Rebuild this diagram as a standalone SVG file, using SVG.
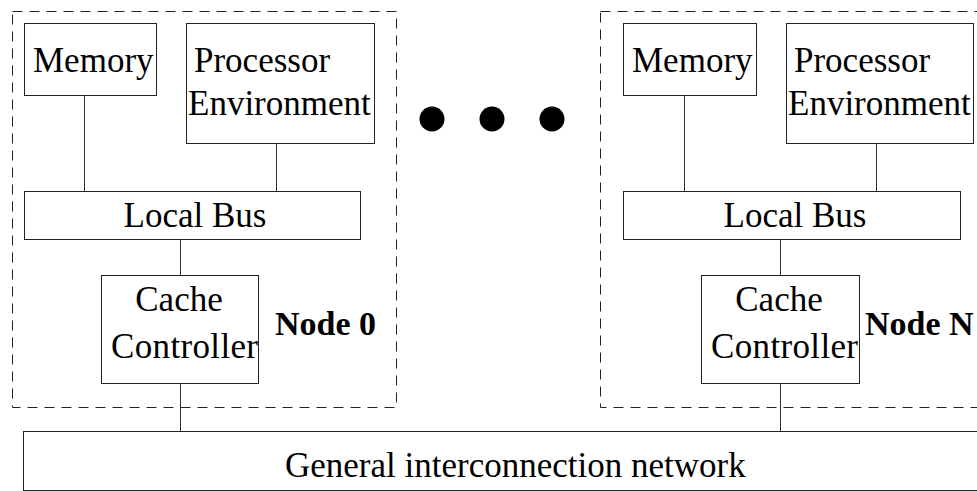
<svg xmlns="http://www.w3.org/2000/svg" width="977" height="491" viewBox="0 0 977 491">
<style>
.box{fill:#fff;stroke:#222;stroke-width:1}
.dash{fill:none;stroke:#222;stroke-width:1;stroke-dasharray:10 7}
.ln{stroke:#333;stroke-width:1;fill:none}
text{font-family:"Liberation Serif","Times New Roman",serif;font-size:35px;fill:#000}
.b{font-weight:bold;font-size:34px}
</style>
<rect width="977" height="491" fill="#fff"/>
<g id="connectors">
<line class="ln" x1="84.5" y1="95" x2="84.5" y2="191"/>
<line class="ln" x1="276.5" y1="143" x2="276.5" y2="191"/>
<line class="ln" x1="180.5" y1="239" x2="180.5" y2="275"/>
<line class="ln" x1="180.5" y1="383" x2="180.5" y2="431"/>
<line class="ln" x1="684.5" y1="95" x2="684.5" y2="191"/>
<line class="ln" x1="876.5" y1="143" x2="876.5" y2="191"/>
<line class="ln" x1="780.5" y1="239" x2="780.5" y2="275"/>
<line class="ln" x1="780.5" y1="383" x2="780.5" y2="431"/>
</g>
<g id="node0">
<rect class="dash" x="12.5" y="11.5" width="384" height="396"/>
<text class="b" x="275" y="335">Node 0</text>
</g>
<g id="node0-memory"><rect class="box" x="24.5" y="23.5" width="132" height="72"/><text x="33" y="72">Memory</text></g>
<g id="node0-processor"><rect class="box" x="186.5" y="23.5" width="188" height="120"/><text x="194" y="72">Processor</text><text x="188" y="115">Environment</text></g>
<g id="node0-bus"><rect class="box" x="24.5" y="191.5" width="336" height="48"/><text x="195" y="227" text-anchor="middle">Local Bus</text></g>
<g id="node0-cache"><rect class="box" x="101.5" y="275.5" width="157" height="108"/><text x="179" y="311" text-anchor="middle">Cache</text><text x="111" y="358" textLength="147">Controller</text></g>
<g id="dots"><circle cx="432" cy="119" r="12.5"/><circle cx="492" cy="119" r="12.5"/><circle cx="552" cy="119" r="12.5"/></g>
<g id="nodeN">
<rect class="dash" x="600.5" y="11.5" width="400" height="396"/>
<text class="b" x="865" y="335">Node N</text>
</g>
<g id="nodeN-memory"><rect class="box" x="623.5" y="23.5" width="133" height="72"/><text x="632" y="72">Memory</text></g>
<g id="nodeN-processor"><rect class="box" x="786.5" y="23.5" width="187" height="120"/><text x="794" y="72">Processor</text><text x="788" y="115">Environment</text></g>
<g id="nodeN-bus"><rect class="box" x="623.5" y="191.5" width="337" height="48"/><text x="795" y="227" text-anchor="middle">Local Bus</text></g>
<g id="nodeN-cache"><rect class="box" x="701.5" y="275.5" width="158" height="108"/><text x="779" y="311" text-anchor="middle">Cache</text><text x="711" y="358" textLength="147">Controller</text></g>
<g id="network"><rect class="box" x="23.5" y="431.5" width="1000" height="59"/><text x="285" y="477">General interconnection network</text></g>
</svg>
